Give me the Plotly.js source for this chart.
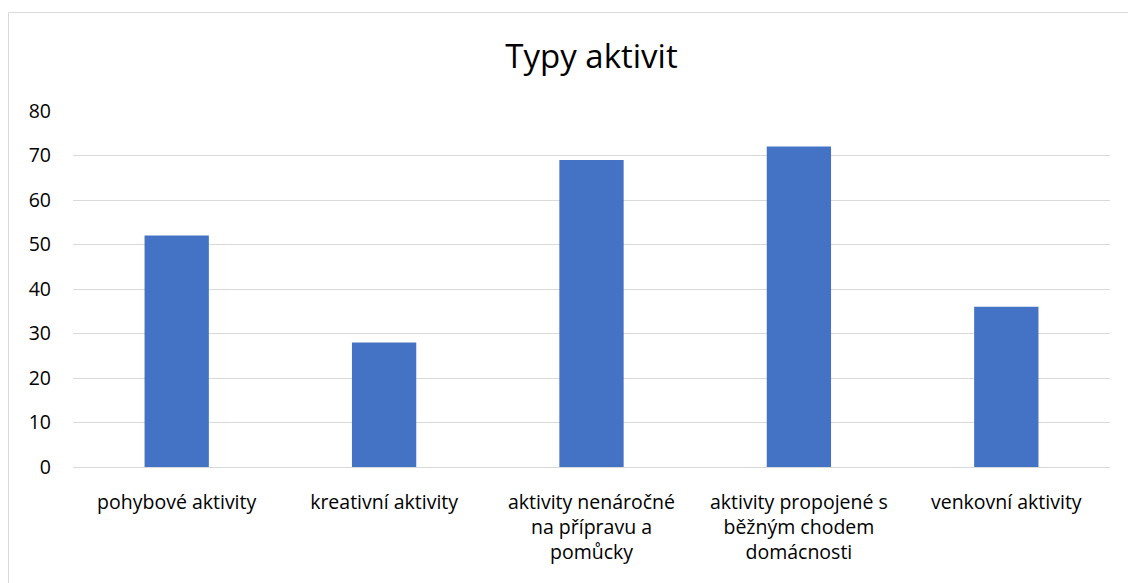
<!DOCTYPE html>
<html>
<head>
<meta charset="utf-8">
<script src="https://cdn.plot.ly/plotly-3.0.1.min.js"></script>
<style>html,body{margin:0;padding:0;background:#fff;}#chart{width:1128px;height:583px;}</style>
</head>
<body>
<div id="chart"></div>
<script>
const categories = [
  "pohybové aktivity",
  "kreativní aktivity",
  "aktivity nenáročné<br>na přípravu a<br>pomůcky",
  "aktivity propojené s<br>běžným chodem<br>domácnosti",
  "venkovní aktivity"
];
const values = [52, 28, 69, 72, 36];
const yTicks = [0, 10, 20, 30, 40, 50, 60, 70, 80];

const W = 1128, H = 583;
const m = {l: 73, r: 18, t: 111, b: 116, pad: 0};
const pw = W - m.l - m.r, ph = H - m.t - m.b;
const px2x = p => (p - m.l) / pw;
const py2y = p => (H - m.b - p) / ph;

const font = "'Open Sans', Lato, sans-serif";

const trace = {
  type: 'bar',
  x: categories,
  y: values,
  marker: {color: '#4472C4'},
  hoverinfo: 'x+y'
};

const layout = {
  width: W, height: H,
  margin: m,
  paper_bgcolor: '#ffffff',
  plot_bgcolor: '#ffffff',
  showlegend: false,
  bargap: 0.69,
  font: {family: font, color: '#000000', size: 19},
  title: {
    text: 'Typy aktivit',
    font: {family: font, size: 33, color: '#000000'},
    x: 0.5, xanchor: 'center',
    y: 1 - 56 / H, yanchor: 'middle',
    xref: 'paper'
  },
  xaxis: {
    type: 'category',
    showgrid: false,
    showline: false,
    zeroline: false,
    ticks: '',
    tickfont: {family: font, size: 19.5, color: '#000000'},
    tickangle: 0,
    ticklabelstandoff: 21,
    automargin: false
  },
  yaxis: {
    range: [0, 80],
    tickvals: yTicks,
    ticktext: yTicks.map(String),
    showgrid: true,
    gridcolor: '#d9d9d9',
    gridwidth: 1,
    zeroline: true,
    zerolinecolor: '#d9d9d9',
    zerolinewidth: 1,
    showline: false,
    ticks: '',
    tickfont: {family: font, size: 19.5, color: '#000000'},
    ticklabelstandoff: 21,
    automargin: false
  },
  shapes: [{
    type: 'rect', xref: 'paper', yref: 'paper',
    x0: px2x(8.5), x1: px2x(1140), y0: py2y(600), y1: py2y(12.5),
    line: {color: '#d9d9d9', width: 1},
    fillcolor: 'rgba(0,0,0,0)',
    layer: 'below'
  }]
};

Plotly.newPlot('chart', [trace], layout, {displayModeBar: false, staticPlot: true});
</script>
</body>
</html>
